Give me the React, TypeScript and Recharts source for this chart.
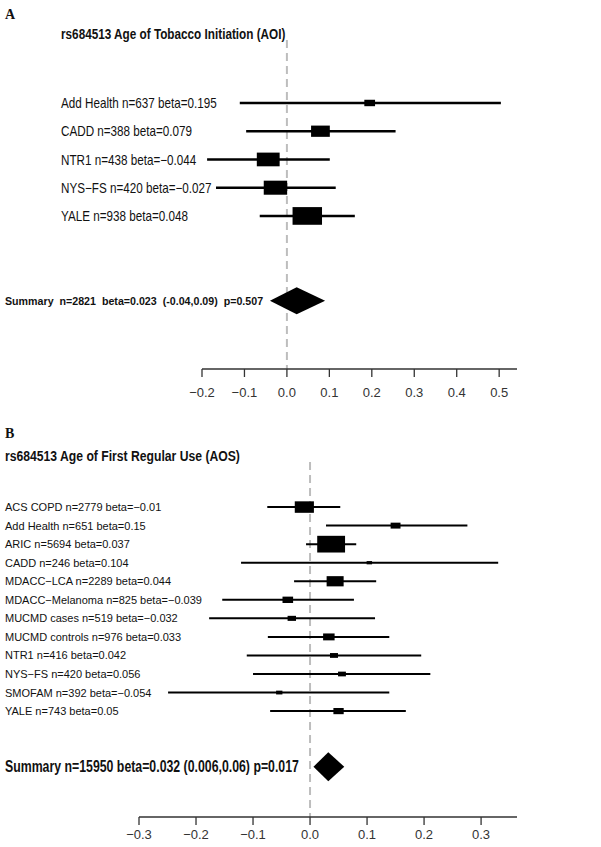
import React from "react";
import {
  ComposedChart,
  XAxis,
  YAxis,
  Scatter,
  ReferenceLine,
  ReferenceArea,
  CartesianGrid,
} from "recharts";

// ---------- Panel A data ----------
const studiesA = ["Add Health", "CADD", "NTR1", "NYS\u2212FS", "YALE"];
const nA = [637, 388, 438, 420, 938];
const betaA = [0.195, 0.079, -0.044, -0.027, 0.048];
const lowerA = [-0.111, -0.096, -0.188, -0.167, -0.064];
const upperA = [0.504, 0.256, 0.101, 0.115, 0.16];
const summaryA = { n: 2821, beta: 0.023, lower: -0.04, upper: 0.09, p: 0.507 };
const summaryLabelA = "Summary  n=2821  beta=0.023  (-0.04,0.09)  p=0.507";
const ticksA = [-0.2, -0.1, 0, 0.1, 0.2, 0.3, 0.4, 0.5];
const titleA = "rs684513 Age of Tobacco Initiation (AOI)";

// ---------- Panel B data ----------
const studiesB = [
  "ACS COPD",
  "Add Health",
  "ARIC",
  "CADD",
  "MDACC\u2212LCA",
  "MDACC\u2212Melanoma",
  "MUCMD cases",
  "MUCMD controls",
  "NTR1",
  "NYS\u2212FS",
  "SMOFAM",
  "YALE",
];
const nB = [2779, 651, 5694, 246, 2289, 825, 519, 976, 416, 420, 392, 743];
const betaB = [-0.01, 0.15, 0.037, 0.104, 0.044, -0.039, -0.032, 0.033, 0.042, 0.056, -0.054, 0.05];
const lowerB = [-0.075, 0.028, -0.007, -0.121, -0.028, -0.154, -0.177, -0.074, -0.111, -0.1, -0.249, -0.07];
const upperB = [0.053, 0.276, 0.081, 0.33, 0.116, 0.077, 0.114, 0.139, 0.195, 0.211, 0.139, 0.168];
const summaryB = { n: 15950, beta: 0.032, lower: 0.006, upper: 0.06, p: 0.017 };
const summaryLabelB = "Summary n=15950 beta=0.032 (0.006,0.06) p=0.017";
const ticksB = [-0.3, -0.2, -0.1, 0, 0.1, 0.2, 0.3];
const titleB = "rs684513 Age of First Regular Use (AOS)";

const FONT = "'Liberation Sans', Arial, Helvetica, sans-serif";

const fmtBeta = (v: number) => (v < 0 ? "\u2212" + String(Math.abs(v)) : String(v));
const fmtTick = (v: number) =>
  v < -1e-9 ? "\u2212" + Math.abs(v).toFixed(1) : Math.abs(v).toFixed(1);

type Row = { row: number; beta: number; lo: number; hi: number; label: string };

function buildRows(studies: string[], ns: number[], betas: number[], lows: number[], highs: number[]): Row[] {
  return studies.map((s, i) => ({
    row: i,
    beta: betas[i],
    lo: lows[i],
    hi: highs[i],
    label: `${s} n=${ns[i]} beta=${fmtBeta(betas[i])}`,
  }));
}

const rowsA = buildRows(studiesA, nA, betaA, lowerA, upperA);
const rowsB = buildRows(studiesB, nB, betaB, lowerB, upperB);

type PanelCfg = {
  rows: Row[];
  summary: { beta: number; lower: number; upper: number };
  summaryLabel: string;
  summaryRow: number;
  ticks: number[];
  xDomain: [number, number];
  yDomain: [number, number];
  width: number;
  height: number;
  margin: { top: number; right: number; bottom: number; left: number };
  yAxisWidth: number;
  xAxisHeight: number;
  tickMargin: number;
  labelX: number;
  labelFs: number;
  labelScale: number;
  sumX: number;
  sumFs: number;
  sumScale: number;
  boxK: number;
  ciWidth: number;
  diamondHalf: number;
};

function Panel({ cfg }: { cfg: PanelCfg }) {
  const labelMap: Record<number, string> = {};
  cfg.rows.forEach((r) => (labelMap[r.row] = r.label));
  const yTicks = [...cfg.rows.map((r) => r.row), cfg.summaryRow];

  const renderTick = (p: any) => {
    const v = p.payload.value;
    const y = p.y;
    if (v === cfg.summaryRow) {
      return (
        <text
          transform={`translate(${cfg.sumX},${y}) scale(${cfg.sumScale},1)`}
          dy="0.36em"
          fontSize={cfg.sumFs}
          fontWeight="bold"
          fill="#111"
          fontFamily={FONT}
          style={{ whiteSpace: "pre" }}
        >
          {cfg.summaryLabel}
        </text>
      );
    }
    return (
      <text
        transform={`translate(${cfg.labelX},${y}) scale(${cfg.labelScale},1)`}
        dy="0.36em"
        fontSize={cfg.labelFs}
        fill="#111"
        fontFamily={FONT}
      >
        {labelMap[v]}
      </text>
    );
  };

  const boxShape = (p: any) => {
    const { cx, cy, payload } = p;
    const w = cfg.boxK / (payload.hi - payload.lo);
    const h = w * 0.6;
    return <rect x={cx - w / 2} y={cy - h / 2} width={w} height={h} fill="#000" />;
  };

  const s = cfg.summary;
  const diamondShape = (p: any) => {
    const { x, y, width, height } = p;
    const cy = y + height / 2;
    const cx = x + (width * (s.beta - s.lower)) / (s.upper - s.lower);
    const hh = cfg.diamondHalf;
    const pts = `${x},${cy} ${cx},${cy - hh} ${x + width},${cy} ${cx},${cy + hh}`;
    return <polygon points={pts} fill="#000" />;
  };

  const zeroGen = (props: any) => {
    const sc = props && props.xAxis && props.xAxis.scale;
    if (typeof sc === "function") return [sc(0)];
    if (sc && typeof sc.map === "function") return [sc.map(0)];
    const off = props.offset;
    const [d0, d1] = cfg.xDomain;
    return [off.left + (off.width * (0 - d0)) / (d1 - d0)];
  };

  return (
    <ComposedChart width={cfg.width} height={cfg.height} margin={cfg.margin}>
      <CartesianGrid
        horizontal={false}
        vertical
        verticalCoordinatesGenerator={zeroGen}
        stroke="#bdbdbd"
        strokeWidth={2}
        strokeDasharray="8 5"
      />
      <XAxis
        type="number"
        dataKey="beta"
        domain={cfg.xDomain}
        ticks={cfg.ticks}
        interval={0}
        allowDataOverflow
        height={cfg.xAxisHeight}
        tickSize={8}
        tickMargin={cfg.tickMargin}
        tickFormatter={fmtTick}
        axisLine={{ stroke: "#333", strokeWidth: 1.3 }}
        tickLine={{ stroke: "#333", strokeWidth: 1.3 }}
        tick={{ fontSize: 13, fill: "#333", fontFamily: FONT }}
      />
      <YAxis
        type="number"
        dataKey="row"
        domain={cfg.yDomain}
        reversed
        allowDataOverflow
        ticks={yTicks}
        interval={0}
        width={cfg.yAxisWidth}
        axisLine={false}
        tickLine={false}
        tick={renderTick}
      />
      {cfg.rows.map((r) => (
        <ReferenceLine
          key={"ci" + r.row}
          segment={[
            { x: r.lo, y: r.row },
            { x: r.hi, y: r.row },
          ]}
          stroke="#000"
          strokeWidth={cfg.ciWidth}
        />
      ))}
      <ReferenceArea
        x1={s.lower}
        x2={s.upper}
        y1={cfg.summaryRow - 0.3}
        y2={cfg.summaryRow + 0.3}
        shape={diamondShape}
      />
      <Scatter data={cfg.rows} dataKey="beta" shape={boxShape} isAnimationActive={false} />
    </ComposedChart>
  );
}

const cfgA: PanelCfg = {
  rows: rowsA,
  summary: summaryA,
  summaryLabel: summaryLabelA,
  summaryRow: 7,
  ticks: ticksA,
  xDomain: [-0.2, 0.542],
  yDomain: [-2.23, 9.42],
  width: 601,
  height: 410,
  margin: { top: 40, right: 84, bottom: 11, left: 0 },
  yAxisWidth: 202,
  xAxisHeight: 30,
  tickMargin: 11,
  labelX: 61,
  labelFs: 14,
  labelScale: 0.835,
  sumX: 5,
  sumFs: 11,
  sumScale: 0.97,
  boxK: 6.6,
  ciWidth: 2.5,
  diamondHalf: 13.5,
};

const cfgB: PanelCfg = {
  rows: rowsB,
  summary: summaryB,
  summaryLabel: summaryLabelB,
  summaryRow: 14,
  ticks: ticksB,
  xDomain: [-0.3, 0.363],
  yDomain: [-2.43, 16.71],
  width: 601,
  height: 447,
  margin: { top: 62, right: 84, bottom: 5, left: 0 },
  yAxisWidth: 139,
  xAxisHeight: 25,
  tickMargin: 5,
  labelX: 5,
  labelFs: 11,
  labelScale: 1,
  sumX: 5,
  sumFs: 16,
  sumScale: 0.77,
  boxK: 2.45,
  ciWidth: 2,
  diamondHalf: 14.5,
};

export default function App() {
  return (
    <div
      style={{
        position: "absolute",
        left: 0,
        top: 0,
        width: 601,
        height: 847,
        background: "#fff",
        fontFamily: FONT,
        overflow: "hidden",
      }}
    >
      <div style={{ position: "absolute", left: 0, top: 0 }}>
        <Panel cfg={cfgA} />
      </div>
      <div style={{ position: "absolute", left: 0, top: 400 }}>
        <Panel cfg={cfgB} />
      </div>
      <svg
        width={601}
        height={847}
        style={{ position: "absolute", left: 0, top: 0, pointerEvents: "none" }}
      >
        <text x={5} y={14} dy="0.35em" fontFamily="'Liberation Serif', 'Times New Roman', serif" fontWeight="bold" fontSize={14} fill="#111">
          A
        </text>
        <text
          transform="translate(61,33.5) scale(0.84,1)"
          dy="0.36em"
          fontFamily={FONT}
          fontWeight="bold"
          fontSize={14}
          fill="#111"
        >
          {titleA}
        </text>
        <text x={5} y={433} dy="0.35em" fontFamily="'Liberation Serif', 'Times New Roman', serif" fontWeight="bold" fontSize={14} fill="#111">
          B
        </text>
        <text
          transform="translate(5,456) scale(0.87,1)"
          dy="0.36em"
          fontFamily={FONT}
          fontWeight="bold"
          fontSize={14}
          fill="#111"
        >
          {titleB}
        </text>
      </svg>
    </div>
  );
}
